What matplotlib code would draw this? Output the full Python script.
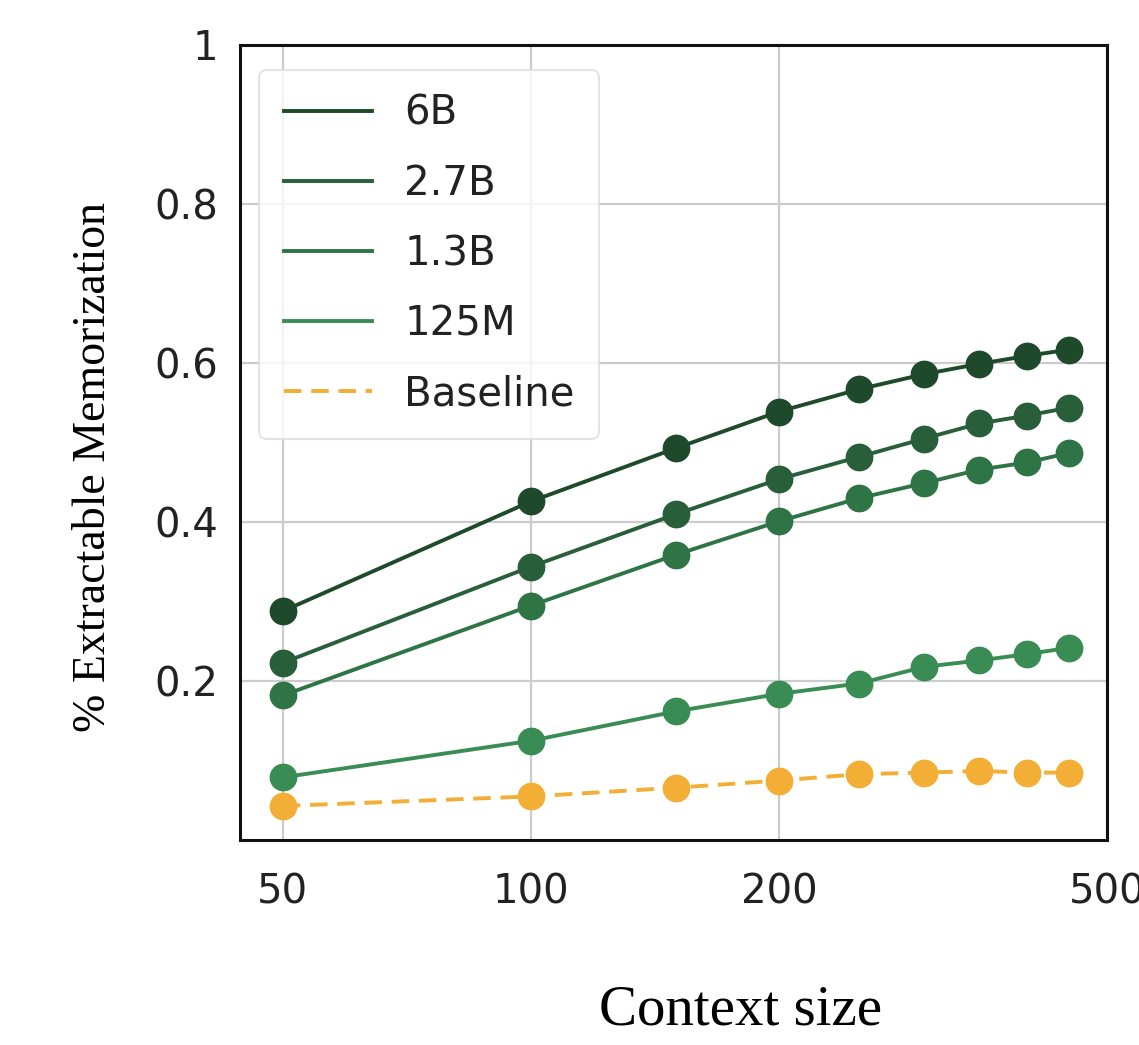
import matplotlib
import numpy as np
from matplotlib import pyplot as plt
from matplotlib.ticker import FixedLocator, NullLocator

matplotlib.use('Agg')

# context sizes and extractable memorization per model
context = [50, 100, 150, 200, 250, 300, 350, 400, 450]
mem_6b = [0.288, 0.426, 0.493, 0.539, 0.567, 0.586, 0.599, 0.609, 0.617]
mem_2_7b = [0.223, 0.344, 0.410, 0.454, 0.482, 0.505, 0.524, 0.534, 0.544]
mem_1_3b = [0.182, 0.295, 0.359, 0.401, 0.430, 0.449, 0.466, 0.475, 0.487]
mem_125m = [0.079, 0.125, 0.162, 0.184, 0.197, 0.218, 0.226, 0.234, 0.242]
baseline = [0.043, 0.055, 0.066, 0.075, 0.083, 0.085, 0.087, 0.085, 0.085]

series_names = ['6B', '2.7B', '1.3B', '125M']
series_values = [mem_6b, mem_2_7b, mem_1_3b, mem_125m]
series_colors = ['#1e4a2b', '#285f3a', '#2f7445', '#3a8c55']

x_ticks = [50, 100, 200, 500]
x_tick_labels = ['50', '100', '200', '500']
y_ticks = [0.2, 0.4, 0.6, 0.8, 1.0]
y_tick_labels = ['0.2', '0.4', '0.6', '0.8', '1']

fig = plt.figure(figsize=(11.39, 10.45), dpi=100)
ax = fig.add_axes([0.211, 0.196, 0.761, 0.761])

for name, vals, col in zip(series_names, series_values, series_colors):
    ax.plot(context, vals, color=col, lw=2.8, label=name, zorder=3)
    ax.plot(context, vals, 'o', color=col, ms=19, zorder=4)

ax.plot(context, baseline, color='#f2ae35', lw=2.8, ls=(0, (4.5, 2.5)), label='Baseline', zorder=3)
ax.plot(context, baseline, 'o', color='#f2ae35', ms=19, zorder=4)

ax.set_xscale('log')
ax.set_xlim(44.4, 500)
ax.set_ylim(0, 1)
ax.xaxis.set_major_locator(FixedLocator(x_ticks))
ax.xaxis.set_minor_locator(NullLocator())
ax.set_xticklabels(x_tick_labels)
ax.set_yticks(y_ticks)
ax.set_yticklabels(y_tick_labels)
ax.tick_params(axis='both', length=0, labelsize=29, labelcolor='#222222')
ax.tick_params(axis='x', pad=23)
ax.tick_params(axis='y', pad=16)

ax.grid(True, color='#cccccc', lw=1.6)
ax.set_axisbelow(True)
for sp in ax.spines.values():
    sp.set_linewidth(2.2)
    sp.set_color('#111111')

ax.set_ylabel('% Extractable Memorization', family='Liberation Serif', fontsize=33, labelpad=28)
ax.yaxis.label.set_y(0.469)
ax.set_xlabel('Context size', family='Liberation Serif', fontsize=41, labelpad=52)
ax.xaxis.label.set_x(0.577)

leg = ax.legend(loc='upper left', fontsize=29, handlelength=2.2, handletextpad=0.8,
                labelspacing=0.75, borderpad=0.6, frameon=True, fancybox=True,
                bbox_to_anchor=(0.022, 0.969), borderaxespad=0.0)
leg.get_frame().set_edgecolor('#dddddd')
leg.get_frame().set_linewidth(1.5)
for t in leg.get_texts():
    t.set_color('#222222')

fig.savefig('out.png', dpi=100)
